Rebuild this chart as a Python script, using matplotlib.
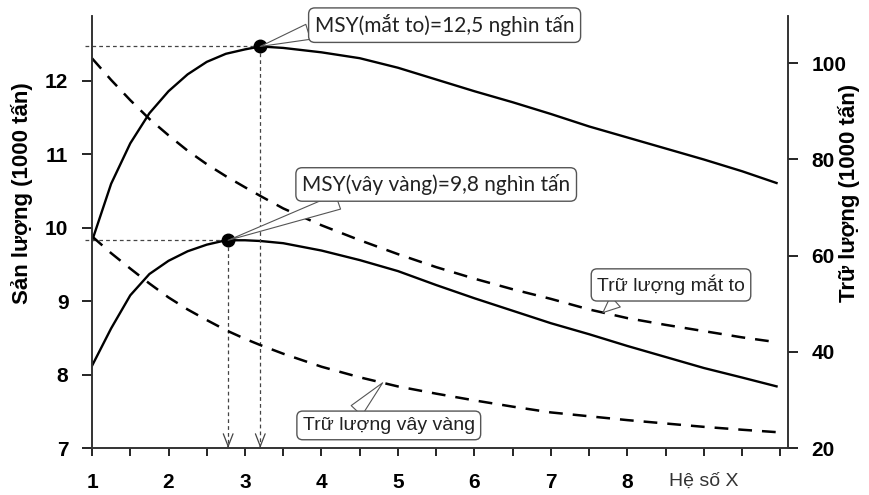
import numpy as np
import matplotlib
matplotlib.use("Agg")
import matplotlib.pyplot as plt

# he so X (effort multiplier)
x = [1, 1.25, 1.5, 1.75, 2, 2.25, 2.5, 2.75, 3, 3.2, 3.5, 4, 4.5, 5, 5.5,
     6, 6.5, 7, 7.5, 8, 8.5, 9, 9.5, 9.95]

# san luong (1000 tan) - left axis
yield_matto = [9.82, 10.6, 11.15, 11.56, 11.86, 12.09, 12.26, 12.37, 12.43, 12.47,
               12.45, 12.39, 12.31, 12.18, 12.02, 11.86, 11.71, 11.55, 11.38, 11.23,
               11.08, 10.93, 10.77, 10.61]
yield_vayvang = [8.12, 8.63, 9.08, 9.37, 9.55, 9.68, 9.77, 9.83, 9.83, 9.82,
                 9.79, 9.69, 9.56, 9.41, 9.22, 9.04, 8.87, 8.70, 8.55, 8.39,
                 8.24, 8.09, 7.96, 7.84]

# tru luong (1000 tan) - right axis
stock_matto = [101, 96.5, 92.3, 88.4, 85, 81.8, 79, 76.5, 74.2, 72.4,
               69.8, 66.3, 63.2, 60.3, 57.6, 55.2, 53, 51, 48.8, 47,
               45.6, 44.3, 43, 42]
stock_vayvang = [64, 60.5, 57.3, 54.2, 51.3, 48.8, 46.6, 44.5, 42.7, 41.4,
                 39.6, 36.9, 34.7, 32.8, 31.3, 29.9, 28.6, 27.4, 26.6, 25.8,
                 25.1, 24.4, 23.8, 23.3]

msy_x = [3.2, 2.78]
msy_y = [12.47, 9.83]
msy_labels = ["MSY(mắt to)=12,5 nghìn tấn", "MSY(vây vàng)=9,8 nghìn tấn"]

xtick_labels = ["1", "2", "3", "4", "5", "6", "7", "8", "Hệ số X", ""]

plt.rcParams["font.family"] = ["Liberation Sans", "DejaVu Sans"]

fig = plt.figure(figsize=(8.69, 4.95), dpi=100)
ax = fig.add_axes([0.1059, 0.0949, 0.8009, 0.8728])
ax2 = ax.twinx()

ax.plot(x, yield_matto, color="black", lw=1.7)
ax.plot(x, yield_vayvang, color="black", lw=1.7)
ax2.plot(x, stock_matto, color="black", lw=1.8, dashes=(5.5, 4))
ax2.plot(x, stock_vayvang, color="black", lw=1.8, dashes=(5.5, 4))

ax.set_xlim(1, 10.1)
ax.set_ylim(7, 12.885)
ax2.set_ylim(20, 109.8)

# reference lines to the MSY points
for mx, my in zip(msy_x, msy_y):
    ax.plot([0.91, mx], [my, my], color="#444444", lw=0.9, dashes=(3, 2.5), clip_on=False)
    ax.plot([mx, mx], [my, 7.05], color="#444444", lw=0.9, dashes=(3, 2.5))
    ax.annotate("", xy=(mx, 7.0), xytext=(mx, 7.03),
                arrowprops=dict(arrowstyle="->,head_length=0.9,head_width=0.35",
                                color="#444444", lw=0.9, shrinkA=0, shrinkB=0))
ax.plot(msy_x, msy_y, "o", color="black", ms=9, zorder=5)

box = dict(boxstyle="round,pad=0.3,rounding_size=0.3", fc="white", ec="#555555", lw=1)
wedge = dict(arrowstyle="wedge,tail_width=0.75,shrink_factor=0.5", fc="white",
             ec="#555555", lw=0.8, shrinkA=0, shrinkB=0)

ax2.annotate(msy_labels[0], xy=(msy_x[0], msy_y[0]), xycoords=ax.transData,
             xytext=(5.61, 12.76), textcoords=ax.transData,
             ha="center", va="center", fontsize=15, family=["Lato", "DejaVu Sans"],
             color="#222222", bbox=box, annotation_clip=False,
             arrowprops=dict(wedge, relpos=(0.03, 0.4)))
ax2.annotate(msy_labels[1], xy=(msy_x[1], msy_y[1]), xycoords=ax.transData,
             xytext=(5.50, 10.59), textcoords=ax.transData,
             ha="center", va="center", fontsize=15, family=["Lato", "DejaVu Sans"],
             color="#222222", bbox=box,
             arrowprops=dict(wedge, relpos=(0.25, 0.2)))

ax2.annotate("Trữ lượng mắt to", xy=(7.68, np.interp(7.68, x, stock_matto)),
             xytext=(8.57, 53.9), ha="center", va="center", fontsize=14,
             color="#222222", bbox=box,
             arrowprops=dict(wedge, relpos=(0.22, 0.3)))
ax2.annotate("Trữ lượng vây vàng", xy=(4.8, np.interp(4.8, x, stock_vayvang)),
             xytext=(4.88, 24.7), ha="center", va="center", fontsize=14,
             color="#222222", bbox=box,
             arrowprops=dict(wedge, relpos=(0.25, 0.7)))

# axes styling
for a in (ax, ax2):
    a.spines["top"].set_visible(False)
    for s in ("left", "right", "bottom"):
        a.spines[s].set_linewidth(1.2)
        a.spines[s].set_color("#333333")

ax.set_xticks(range(1, 11))
ax.set_xticks(np.arange(1.5, 10, 1), minor=True)
ax.set_xticklabels(xtick_labels)
ax.tick_params(axis="x", which="both", direction="out", length=6, width=1.2, pad=12)
ax.tick_params(axis="x", which="major", labelsize=15)
for lbl in ax.get_xticklabels():
    lbl.set_fontweight("bold")
lx = ax.get_xticklabels()[8]
lx.set_fontweight("normal")
lx.set_fontsize(14)
lx.set_color("#333333")

ax.set_yticks(range(7, 13))
ax.tick_params(axis="y", direction="out", length=7, width=1.2, labelsize=15, pad=10)
for lbl in ax.get_yticklabels():
    lbl.set_fontweight("bold")
ax2.set_yticks(range(20, 101, 20))
ax2.tick_params(axis="y", direction="out", length=7, width=1.2, labelsize=15, pad=10)
for lbl in ax2.get_yticklabels():
    lbl.set_fontweight("bold")

ax.set_ylabel("Sản lượng (1000 tấn)", fontsize=16, fontweight="bold")
ax2.set_ylabel("Trữ lượng (1000 tấn)", fontsize=16, fontweight="bold")
ax.yaxis.set_label_coords(-0.085, 0.59)
ax2.yaxis.set_label_coords(1.072, 0.59)

fig.savefig("out.png", dpi=100)
